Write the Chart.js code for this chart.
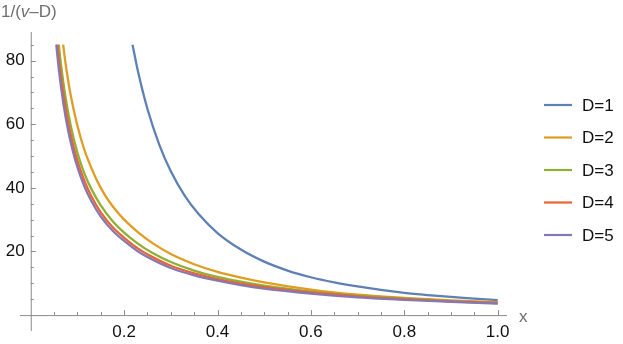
<!DOCTYPE html>
<html lang="en">
<head>
    <meta charset="UTF-8">
    <title>1/(v-D) against x</title>
    <script src="https://cdn.jsdelivr.net/npm/chart.js"></script>
    <style>
        body { margin: 0; background: #fff; }
        canvas { display: block; }
    </style>
</head>
<body>
    <canvas id="plot" width="623" height="344"></canvas>
    <script>
        // values
        const labels = ['D=1', 'D=2', 'D=3', 'D=4', 'D=5'];
        const colors = ['#5E81B5', '#E19C24', '#8FB032', '#EB6235', '#8778B3'];

        const xD1 = [0.218, 0.23, 0.25, 0.275, 0.3, 0.33, 0.36, 0.4, 0.45, 0.5, 0.55, 0.6, 0.65, 0.7, 0.75, 0.8, 0.85, 0.9, 0.95, 1.0];
        const yD1 = [85.0, 76.4, 64.8, 53.7, 45.2, 37.5, 31.7, 25.8, 20.6, 16.8, 14.0, 11.9, 10.3, 9.0, 7.9, 7.0, 6.3, 5.7, 5.2, 4.7];

        const xD2 = [0.0694, 0.075, 0.085, 0.1, 0.115, 0.13, 0.14, 0.15, 0.16, 0.175, 0.19, 0.2, 0.23, 0.26, 0.3, 0.35, 0.4, 0.45, 0.5, 0.6, 0.7, 0.8, 0.9, 1.0];
        const yD2 = [85.0, 78.7, 69.6, 59.5, 51.9, 46.2, 42.9, 40.0, 37.5, 34.3, 31.6, 30.0, 26.0, 22.7, 19.2, 16.0, 13.6, 11.8, 10.3, 8.0, 6.4, 5.4, 4.6, 4.05];

        const xD3 = [0.06, 0.065, 0.075, 0.085, 0.1, 0.115, 0.13, 0.15, 0.175, 0.2, 0.23, 0.26, 0.3, 0.35, 0.4, 0.45, 0.5, 0.6, 0.7, 0.8, 0.9, 1.0];
        const yD3 = [85.0, 78.5, 68.0, 60.0, 51.0, 44.5, 39.6, 34.5, 29.6, 25.9, 22.4, 19.6, 16.7, 14.0, 12.0, 10.5, 9.3, 7.4, 6.1, 5.2, 4.4, 3.9];

        const xD4 = [0.057, 0.062, 0.07, 0.08, 0.09, 0.1, 0.115, 0.13, 0.15, 0.175, 0.2, 0.23, 0.26, 0.3, 0.35, 0.4, 0.45, 0.5, 0.6, 0.7, 0.8, 0.9, 1.0];
        const yD4 = [85.0, 78.2, 69.3, 60.6, 53.9, 48.5, 42.2, 37.3, 32.3, 27.7, 24.3, 20.9, 18.3, 15.5, 13.1, 11.3, 9.9, 8.8, 7.1, 5.9, 5.0, 4.3, 3.8];

        const xD5 = [0.0547, 0.06, 0.07, 0.08, 0.09, 0.1, 0.115, 0.13, 0.15, 0.175, 0.2, 0.23, 0.26, 0.3, 0.35, 0.4, 0.45, 0.5, 0.6, 0.7, 0.8, 0.9, 1.0];
        const yD5 = [85.0, 77.5, 66.4, 58.1, 51.7, 46.5, 40.4, 35.8, 31.0, 26.6, 23.3, 20.0, 17.5, 14.8, 12.5, 10.8, 9.4, 8.3, 6.75, 5.6, 4.8, 4.2, 3.6];

        const xTicks = [0.2, 0.4, 0.6, 0.8, 1.0];
        const xTickLabels = ['0.2', '0.4', '0.6', '0.8', '1.0'];
        const yTicks = [20, 40, 60, 80];
        const yTickLabels = ['20', '40', '60', '80'];

        const xs = [xD1, xD2, xD3, xD4, xD5];
        const ys = [yD1, yD2, yD3, yD4, yD5];

        const FONT = '17px "Liberation Sans", Arial, sans-serif';
        const AXIS = '#8a8a8a';

        // Mathematica style axes crossing at the origin, ticks pointing inward
        const mmaAxes = {
            id: 'mmaAxes',
            beforeDatasetsDraw(chart) {
                const ctx = chart.ctx;
                const xs = chart.scales.x, ys = chart.scales.y;
                const a = chart.chartArea;
                const x0 = xs.getPixelForValue(0), y0 = ys.getPixelForValue(0);
                ctx.save();
                ctx.strokeStyle = AXIS;
                ctx.lineWidth = 1;
                ctx.beginPath();
                ctx.moveTo(a.left, y0 + 0.5); ctx.lineTo(a.right, y0 + 0.5);
                ctx.moveTo(x0 + 0.5, a.top); ctx.lineTo(x0 + 0.5, a.bottom);
                for (let i = 1; i <= 20; i++) {
                    const px = Math.round(xs.getPixelForValue(i * 0.05)) + 0.5;
                    const len = i % 4 === 0 ? 5 : 3;
                    ctx.moveTo(px, y0); ctx.lineTo(px, y0 - len);
                }
                for (let i = 1; i <= 17; i++) {
                    const py = Math.round(ys.getPixelForValue(i * 5)) + 0.5;
                    const len = i % 4 === 0 ? 5 : 3;
                    ctx.moveTo(x0, py); ctx.lineTo(x0 + len, py);
                }
                ctx.stroke();
                ctx.restore();
            },
            afterDraw(chart) {
                const ctx = chart.ctx;
                const xs = chart.scales.x, ys = chart.scales.y;
                const x0 = xs.getPixelForValue(0), y0 = ys.getPixelForValue(0);
                ctx.save();
                ctx.font = FONT;
                ctx.fillStyle = '#111';
                ctx.textAlign = 'center';
                ctx.textBaseline = 'middle';
                xTicks.forEach((v, i) => ctx.fillText(xTickLabels[i], xs.getPixelForValue(v), y0 + 17));
                ctx.textAlign = 'right';
                yTicks.forEach((v, i) => ctx.fillText(yTickLabels[i], x0 - 6, ys.getPixelForValue(v)));

                // axis labels
                ctx.fillStyle = '#6f6f6f';
                ctx.textAlign = 'left';
                ctx.fillText('x', 519, y0 + 2);
                let lx = 1;
                const ly = 12;
                const parts = [['1/(', FONT], ['v', 'italic ' + FONT], ['\u2013D)', FONT]];
                parts.forEach(p => {
                    ctx.font = p[1];
                    ctx.fillText(p[0], lx, ly);
                    lx += ctx.measureText(p[0]).width;
                });

                // legend
                ctx.font = FONT;
                ctx.fillStyle = '#111';
                labels.forEach((name, i) => {
                    const y = 105 + i * 32.5;
                    ctx.strokeStyle = colors[i];
                    ctx.lineWidth = 2.2;
                    ctx.beginPath();
                    ctx.moveTo(544, y); ctx.lineTo(572, y);
                    ctx.stroke();
                    ctx.fillText(name, 582, y + 1);
                });
                ctx.restore();
            }
        };

        new Chart(document.getElementById('plot'), {
            type: 'line',
            data: {
                datasets: labels.map((name, i) => ({
                    label: name,
                    data: xs[i].map((x, j) => ({ x: x, y: ys[i][j] })),
                    borderColor: colors[i],
                    borderWidth: 2.3,
                    pointRadius: 0,
                    fill: false,
                    cubicInterpolationMode: 'monotone',
                    order: 5 - i
                }))
            },
            options: {
                responsive: false,
                animation: false,
                layout: { padding: { left: 20, top: 32, right: 116, bottom: 13 } },
                plugins: {
                    legend: { display: false },
                    tooltip: { enabled: false }
                },
                scales: {
                    x: { type: 'linear', min: -0.023, max: 1.02, display: false },
                    y: { min: -5, max: 89, display: false }
                }
            },
            plugins: [mmaAxes]
        });
    </script>
</body>
</html>
